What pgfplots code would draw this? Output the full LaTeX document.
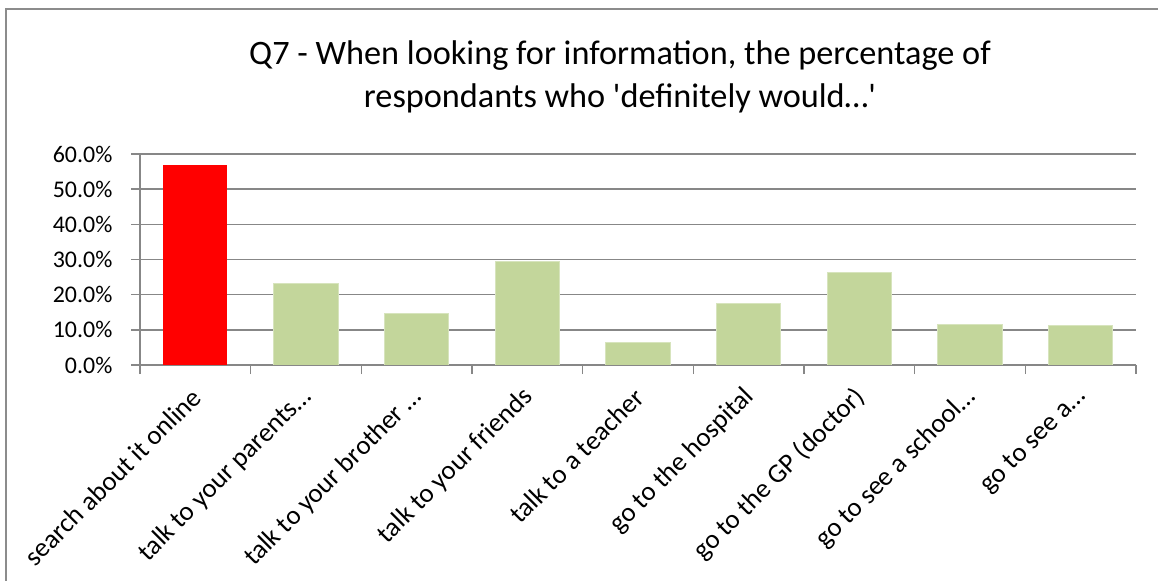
\documentclass[border=0pt]{standalone}
\usepackage{fontspec}
\setmainfont{Carlito}
\usepackage{pgfplots}
\pgfplotsset{compat=1.18}
\definecolor{barred}{HTML}{FF0000}
\definecolor{bargreen}{HTML}{C3D69B}
\definecolor{bargreenedge}{HTML}{D7E4BD}
\definecolor{gridgray}{HTML}{878787}
\definecolor{framegray}{HTML}{8C8C8C}
\begin{document}
\begin{tikzpicture}
\path[use as bounding box] (0,0) rectangle (579bp,290.5bp);
\draw[framegray, line width=0.8bp] (3bp,0) -- (3bp,286bp) -- (579bp,286bp);
\node[anchor=base, inner sep=0pt, font=\fontsize{17.2}{21}\selectfont] at (310bp,258bp) {Q7 - When looking for information, the percentage of};
\node[anchor=base, inner sep=0pt, font=\fontsize{17.2}{21}\selectfont] at (310bp,236.5bp) {respondants who \textquotesingle definitely would…\textquotesingle};
\begin{axis}[
  at={(70bp,108bp)}, anchor=south west,
  scale only axis, width=498bp, height=105.5bp,
  xmin=-0.5, xmax=8.5, ymin=0, ymax=60,
  axis lines=left, axis line style={-, gridgray, line width=0.75bp},
  ytick={0,10,...,60},
  yticklabels={0.0\%,10.0\%,20.0\%,30.0\%,40.0\%,50.0\%,60.0\%},
  xtick={0,...,8},
  xticklabels={search about it online, talk to your parents…, talk to your brother …, talk to your friends, talk to a teacher, go to the hospital, go to the GP (doctor), go to see a school…, go to see a…},
  major x tick style={draw=none},
  minor xtick={-0.5,0.5,...,8.5},
  tick align=outside,
  major tick length=4.3bp, minor tick length=4.5bp,
  tick style={gridgray, line width=0.75bp},
  ymajorgrids, grid style={gridgray, line width=0.75bp},
  yticklabel style={font=\fontsize{12}{14}\selectfont, xshift=-6bp},
  xticklabel style={font=\fontsize{13.5}{16}\selectfont, xshift=3.1bp, yshift=-7.2bp, rotate=45, anchor=east},
]
\addplot[ybar, bar width=0.58, bar shift=0pt, fill=barred, draw=none] coordinates {(0,57.0)};
\addplot[ybar, bar width=0.58, bar shift=0pt, fill=bargreen, draw=bargreenedge, line width=0.5bp] coordinates {(1,23.2) (2,14.6) (3,29.5) (4,6.5) (5,17.6) (6,26.4) (7,11.6) (8,11.1)};
\end{axis}
\end{tikzpicture}
\end{document}
